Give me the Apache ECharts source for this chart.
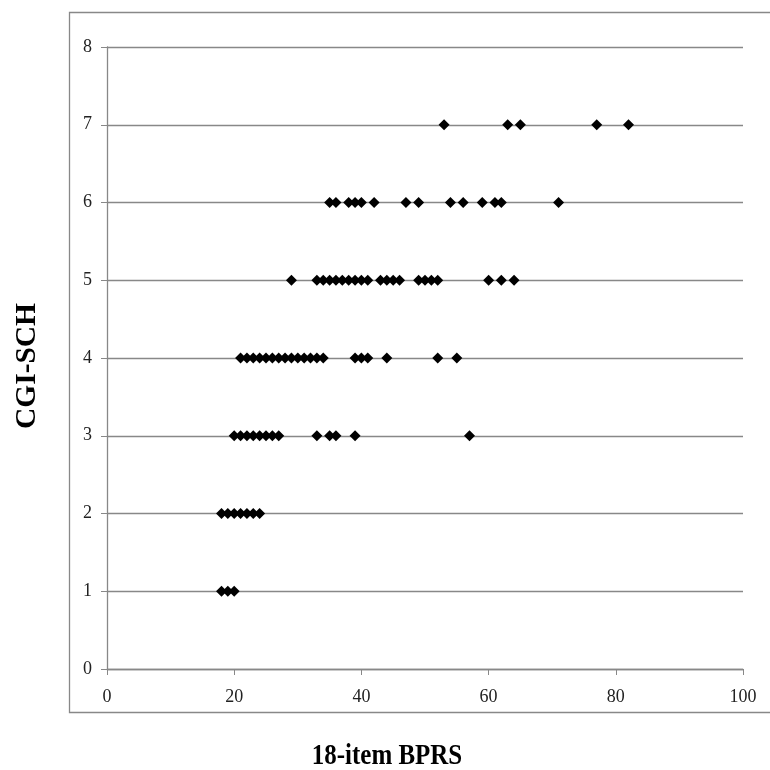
<!DOCTYPE html>
<html>
<head>
<meta charset="utf-8">
<script src="https://cdn.jsdelivr.net/npm/echarts@6/dist/echarts.min.js"></script>
<style>html,body{margin:0;padding:0;background:#fff;}#c{width:770px;height:770px;}</style>
</head>
<body>
<div id="c"></div>
<script>
// BPRS scores observed at each CGI-SCH level
const bprsAtCGI1 = [18, 19, 20];
const bprsAtCGI2 = [18, 19, 20, 21, 22, 23, 24];
const bprsAtCGI3 = [20, 21, 22, 23, 24, 25, 26, 27, 33, 35, 36, 39, 57];
const bprsAtCGI4 = [21, 22, 23, 24, 25, 26, 27, 28, 29, 30, 31, 32, 33, 34, 39, 40, 41, 44, 52, 55];
const bprsAtCGI5 = [29, 33, 34, 35, 36, 37, 38, 39, 40, 41, 43, 44, 45, 46, 49, 50, 51, 52, 60, 62, 64];
const bprsAtCGI6 = [35, 36, 38, 39, 40, 42, 47, 49, 54, 56, 59, 61, 62, 71];
const bprsAtCGI7 = [53, 63, 65, 77, 82];
const cgiLevels = [1, 2, 3, 4, 5, 6, 7];
const xTicks = [0, 20, 40, 60, 80, 100];
const yTicks = [0, 1, 2, 3, 4, 5, 6, 7, 8];
const xTitle = '18-item BPRS';
const yTitle = 'CGI-SCH';

const rows = [bprsAtCGI1, bprsAtCGI2, bprsAtCGI3, bprsAtCGI4, bprsAtCGI5, bprsAtCGI6, bprsAtCGI7];
const points = [];
rows.forEach((r, i) => r.forEach(v => points.push([v, cgiLevels[i]])));

const serif = '"Liberation Serif", "DejaVu Serif", serif';
const gray = '#888888';

const chart = echarts.init(document.getElementById('c'));
chart.setOption({
  animation: false,
  backgroundColor: '#ffffff',
  grid: { left: 107, right: 27, top: 47, bottom: 101 },
  xAxis: {
    type: 'value', min: 0, max: 100, interval: 20,
    axisLine: { show: true, lineStyle: { color: gray, width: 1.3 } },
    axisTick: { show: true, length: 6, inside: false, lineStyle: { color: gray } },
    axisLabel: { fontFamily: serif, fontSize: 18, color: '#222', margin: 19,
      formatter: v => xTicks.includes(v) ? String(v) : '' },
    splitLine: { show: false }
  },
  yAxis: {
    type: 'value', min: 0, max: 8, interval: 1,
    axisLine: { show: true, lineStyle: { color: gray, width: 1.3 } },
    axisTick: { show: true, length: 6, inside: false, lineStyle: { color: gray } },
    axisLabel: { fontFamily: serif, fontSize: 18, color: '#222', margin: 15,
      formatter: v => yTicks.includes(v) ? String(v) : '' },
    splitLine: { show: true, lineStyle: { color: gray, width: 1.3 } }
  },
  graphic: [
    { type: 'rect', left: 67, top: 10, z: -1,
      shape: { x: 0, y: 0, width: 720, height: 700 },
      style: { fill: 'none', stroke: gray, lineWidth: 1.3 } },
    { type: 'text', x: 387, y: 757, scaleX: 0.86,
      style: { text: xTitle, fontFamily: serif, fontWeight: 'bold', fontSize: 29, fill: '#000',
        textAlign: 'center', textVerticalAlign: 'middle' } },
    { type: 'text', x: 27, y: 366, rotation: Math.PI / 2, scaleX: 0.98,
      style: { text: yTitle, fontFamily: serif, fontWeight: 'bold', fontSize: 30, fill: '#000',
        textAlign: 'center', textVerticalAlign: 'middle' } }
  ],
  series: [{
    type: 'scatter',
    data: points,
    symbol: 'diamond',
    symbolSize: 11,
    itemStyle: { color: '#000000', opacity: 1 }
  }]
});
</script>
</body>
</html>
